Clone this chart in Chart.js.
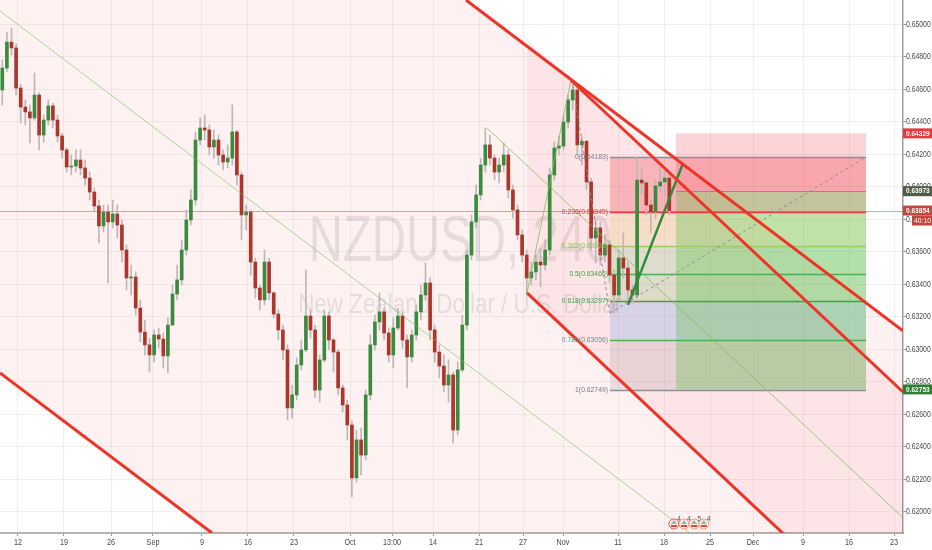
<!DOCTYPE html>
<html>
<head>
<meta charset="utf-8">
<script src="https://cdn.jsdelivr.net/npm/chart.js@4.4.1/dist/chart.umd.min.js"></script>
<style>
  html, body { margin: 0; padding: 0; background: #fff; }
  #wrap { width: 932px; height: 550px; }
</style>
</head>
<body>
<div id="wrap"><canvas id="chart" width="932" height="550"></canvas></div>
<script>
// NZDUSD 240 - each candle here covers roughly three 4h bars
const firstOpen = 0.64596;
const closes = [
  0.64731, 0.64891, 0.64855, 0.64608, 0.64491, 0.64461, 0.64424, 0.64565, 0.64319, 0.64411,
  0.64498, 0.64411, 0.64313, 0.64227, 0.64122, 0.64128, 0.64165, 0.64116, 0.64054, 0.63968,
  0.63882, 0.63759, 0.63845, 0.63784, 0.63833, 0.63765, 0.63611, 0.63439, 0.63445, 0.63254,
  0.63106, 0.63027, 0.62965, 0.63088, 0.63063, 0.62959, 0.63149, 0.63340, 0.63427, 0.63611,
  0.63796, 0.63919, 0.64288, 0.64362, 0.64350, 0.64245, 0.64288, 0.64196, 0.64153, 0.64177,
  0.64338, 0.64073, 0.63827, 0.63845, 0.63537, 0.63377, 0.63304, 0.63537, 0.63347, 0.63217,
  0.63119, 0.62996, 0.62639, 0.62719, 0.62903, 0.62996, 0.63205, 0.63119, 0.62749, 0.62934,
  0.63205, 0.63057, 0.62983, 0.62762, 0.62657, 0.62534, 0.62208, 0.62442, 0.62349, 0.62719,
  0.63027, 0.63168, 0.63230, 0.63100, 0.62965, 0.63131, 0.63205, 0.63057, 0.62953, 0.63088,
  0.63230, 0.63334, 0.63408, 0.63119, 0.62983, 0.62897, 0.62780, 0.62842, 0.62503, 0.62873,
  0.63149, 0.63580, 0.63784, 0.63950, 0.64134, 0.64258, 0.64177, 0.64091, 0.64134, 0.64196,
  0.63981, 0.63858, 0.63704, 0.63580, 0.63439, 0.63476, 0.63537, 0.63519, 0.63611, 0.64073,
  0.64239, 0.64251, 0.64399, 0.64535, 0.64596, 0.64258, 0.64280, 0.64030, 0.63685, 0.63747,
  0.63580, 0.63642, 0.63457, 0.63334, 0.63562, 0.63500, 0.63365, 0.63334, 0.64042, 0.64024,
  0.63888, 0.63845, 0.64005, 0.64030, 0.64054, 0.63854
];
const highs = [
  0.64781, 0.64953, 0.64978, 0.64880, 0.64630, 0.64535, 0.64504, 0.64701, 0.64578, 0.64442,
  0.64535, 0.64516, 0.64442, 0.64331, 0.64239, 0.64196, 0.64227, 0.64227, 0.64165, 0.64091,
  0.63993, 0.63919, 0.63888, 0.63888, 0.63919, 0.63888, 0.63796, 0.63642, 0.63519, 0.63476,
  0.63304, 0.63180, 0.63069, 0.63119, 0.63131, 0.63100, 0.63193, 0.63396, 0.63519, 0.63673,
  0.63858, 0.63981, 0.64338, 0.64424, 0.64442, 0.64381, 0.64350, 0.64319, 0.64227, 0.64258,
  0.64504, 0.64350, 0.64091, 0.63888, 0.63858, 0.63562, 0.63396, 0.63611, 0.63562, 0.63353,
  0.63242, 0.63149, 0.63027, 0.62780, 0.62946, 0.63057, 0.63488, 0.63242, 0.63149, 0.62965,
  0.63242, 0.63230, 0.63069, 0.62996, 0.62780, 0.62688, 0.62560, 0.62503, 0.62516, 0.62749,
  0.63088, 0.63211, 0.63347, 0.63254, 0.63131, 0.63193, 0.63254, 0.63230, 0.63088, 0.63119,
  0.63273, 0.63396, 0.63531, 0.63439, 0.63149, 0.63027, 0.62965, 0.62934, 0.62860, 0.62922,
  0.63211, 0.63611, 0.63827, 0.64011, 0.64177, 0.64362, 0.64319, 0.64196, 0.64177, 0.64270,
  0.64227, 0.64011, 0.63888, 0.63734, 0.63611, 0.63537, 0.63580, 0.63624, 0.63673, 0.64116,
  0.64276, 0.64313, 0.64442, 0.64565, 0.64658, 0.64608, 0.64307, 0.64288, 0.64054, 0.63796,
  0.63784, 0.63704, 0.63673, 0.63488, 0.63611, 0.63716, 0.63537, 0.63396, 0.64183, 0.64116,
  0.64042, 0.63919, 0.64042, 0.64122, 0.64122, 0.64073
];
const lows = [
  0.64504, 0.64707, 0.64811, 0.64565, 0.64393, 0.64381, 0.64270, 0.64411, 0.64227, 0.64276,
  0.64381, 0.64362, 0.64276, 0.64177, 0.64091, 0.64073, 0.64091, 0.64073, 0.64011, 0.63919,
  0.63845, 0.63654, 0.63722, 0.63408, 0.63747, 0.63685, 0.63537, 0.63365, 0.63334, 0.63211,
  0.63045, 0.62965, 0.62860, 0.62922, 0.63008, 0.62885, 0.62854, 0.63149, 0.63304, 0.63396,
  0.63580, 0.63765, 0.63888, 0.64258, 0.64288, 0.64196, 0.64177, 0.64134, 0.64104, 0.64116,
  0.64134, 0.64011, 0.63673, 0.63734, 0.63457, 0.63316, 0.63242, 0.63273, 0.63304, 0.63193,
  0.63057, 0.62934, 0.62565, 0.62577, 0.62688, 0.62873, 0.62983, 0.63069, 0.62700, 0.62676,
  0.62922, 0.62996, 0.62860, 0.62719, 0.62614, 0.62442, 0.62091, 0.62183, 0.62226, 0.62319,
  0.62688, 0.62996, 0.63119, 0.63057, 0.62922, 0.62885, 0.63119, 0.63008, 0.62762, 0.62922,
  0.63057, 0.63180, 0.63304, 0.63057, 0.62922, 0.62823, 0.62737, 0.62676, 0.62423, 0.62473,
  0.62860, 0.63119, 0.63550, 0.63747, 0.63919, 0.64091, 0.64134, 0.64042, 0.64024, 0.64091,
  0.63931, 0.63808, 0.63673, 0.63537, 0.63347, 0.63396, 0.63427, 0.63384, 0.63488, 0.63580,
  0.64042, 0.64196, 0.64227, 0.64362, 0.64473, 0.64196, 0.64134, 0.63981, 0.63611, 0.63531,
  0.63519, 0.63537, 0.63414, 0.63223, 0.63304, 0.63439, 0.63304, 0.63285, 0.63316, 0.63950,
  0.63827, 0.63716, 0.63808, 0.63968, 0.63950, 0.63827
];

// axis
const xMin = -0.5, xMax = 195.8;
const yMin = 0.61869, yMax = 0.65150;
const xTickPos = [3.41, 13.41, 23.63, 32.76, 43.41, 53.41, 63.41, 75.59, 84.72, 93.63,
  103.63, 113.20, 121.89, 133.85, 143.85, 153.85, 163.20, 174.07, 184.07, 193.85];
const xTickLabels = ['12', '19', '26', 'Sep', '9', '16', '23', 'Oct', '13:00', '14',
  '21', '27', 'Nov', '11', '18', '25', 'Dec', '9', '16', '23'];
const yTickValues = [0.620, 0.622, 0.624, 0.626, 0.628, 0.630, 0.632, 0.634, 0.636,
  0.638, 0.640, 0.642, 0.644, 0.646, 0.648, 0.650];

// drawings [x, price]
const channelUpper = [[100.80, 0.65150], [195.80, 0.63113]];
const channelMid = [[-0.50, 0.65082], [149.50, 0.61869]];
const channelLower = [[-0.50, 0.62854], [45.59, 0.61869]];
const channel2Upper = [[114.07, 0.64910], [195.80, 0.62737]];
const channel2Lower = [[114.07, 0.63347], [171.24, 0.61826]];
const channel2LineStart = 123.63;
const highLine = [[105.37, 0.64362], [202.10, 0.61796]];
const swingUp = [[114.07, 0.63347], [123.63, 0.64658]];
const swingDown = [[123.85, 0.64658], [132.10, 0.63223]];
const fibDiag = [[132.10, 0.63223], [187.76, 0.64183]];
const greenTrend = [[136.02, 0.63273], [148.00, 0.64147]];

const fibStartX = 132.10, fibEndX = 187.76;
const fibHigh = 0.64183, fibLow = 0.62749;
const fibLevels = [0, 0.236, 0.382, 0.5, 0.618, 0.786, 1];
const fibLineColors = ['#8a8d96', '#f23645', '#9ccc65', '#4caf50', '#43a047', '#4caf50', '#8a8d96'];
const fibTextColors = ['#787b86', '#e53935', '#8bc34a', '#43a047', '#43a047', '#4f9a8a', '#787b86'];
const fibBandColors = ['rgba(242,54,69,0.28)', 'rgba(214,196,90,0.22)', 'rgba(129,199,132,0.25)',
  'rgba(76,175,80,0.18)', 'rgba(70,140,230,0.2)', 'rgba(110,100,120,0.14)'];

const rrStartX = 146.46, rrEndX = 187.76;
const rrStop = 0.64329, rrEntry = 0.63973, rrTarget = 0.62753;

const markerPrices = [0.64329, 0.63973, 0.63854, 0.62753];
const markerColors = ['#e8383d', '#525b49', '#c4463c', '#2e7d32'];

const eventX = [146.0, 148.2, 150.4, 152.5];
const eventLabels = ['4', '4', '5', '4'];

const upColor = '#3a8a3f', downColor = '#ad3529', wickColor = '#bfb6b6';
const red = '#ef3326';

const opens = closes.map((c, i) => i === 0 ? firstOpen : closes[i - 1]);
const bodies = closes.map((c, i) => ({ x: i, y: [opens[i], c] }));
const wicks = closes.map((c, i) => ({ x: i, y: [lows[i], highs[i]] }));
const bodyColors = closes.map((c, i) => c >= opens[i] ? upColor : downColor);

function lineAt(s, xv) {
  return s[0][1] + (s[1][1] - s[0][1]) * (xv - s[0][0]) / (s[1][0] - s[0][0]);
}

function seg(points, color, width, dash) {
  return {
    type: 'line',
    data: points.map(p => ({ x: p[0], y: p[1] })),
    borderColor: color,
    borderWidth: width,
    borderDash: dash || [],
    pointRadius: 0,
    fill: false,
    tension: 0,
    order: 0
  };
}

function squeezeText(ctx, text, x, y, align, font, color, sx) {
  ctx.save();
  ctx.font = font;
  ctx.fillStyle = color;
  ctx.textAlign = align;
  ctx.textBaseline = 'middle';
  ctx.translate(x, y);
  ctx.scale(sx, 1);
  ctx.fillText(text, 0, 0);
  ctx.restore();
}

const drawings = {
  id: 'drawings',
  beforeDatasetsDraw(chart) {
    const { ctx, chartArea: a, scales: { x, y } } = chart;
    const px = v => x.getPixelForValue(v);
    const py = v => y.getPixelForValue(v);
    ctx.save();
    ctx.beginPath();
    ctx.rect(a.left, a.top, a.width, a.height);
    ctx.clip();

    // watermark
    ctx.save();
    ctx.translate(460, 0);
    ctx.scale(0.74, 1);
    ctx.fillStyle = 'rgba(110,110,120,0.17)';
    ctx.textAlign = 'center';
    ctx.textBaseline = 'alphabetic';
    ctx.font = '64px "Liberation Sans"';
    ctx.fillText('NZDUSD, 240', 0, 261);
    ctx.restore();
    ctx.save();
    ctx.translate(460, 0);
    ctx.scale(0.8, 1);
    ctx.fillStyle = 'rgba(110,110,120,0.17)';
    ctx.textAlign = 'center';
    ctx.font = '28px "Liberation Sans"';
    ctx.fillText('New Zealand Dollar / U.S. Dollar', 0, 313);
    ctx.restore();

    // channels
    const band = (top, bottom, x0, x1, color) => {
      ctx.beginPath();
      ctx.moveTo(px(x0), py(lineAt(top, x0)));
      ctx.lineTo(px(x1), py(lineAt(top, x1)));
      ctx.lineTo(px(x1), py(lineAt(bottom, x1)));
      ctx.lineTo(px(x0), py(lineAt(bottom, x0)));
      ctx.closePath();
      ctx.fillStyle = color;
      ctx.fill();
    };
    band(channelUpper, channelLower, xMin, xMax + 5, 'rgba(242,54,69,0.07)');
    band(channel2Upper, channel2Lower, channel2Upper[0][0], xMax + 5, 'rgba(242,54,69,0.07)');

    // fib bands
    const fibPrice = l => fibHigh - l * (fibHigh - fibLow);
    for (let i = 0; i < fibLevels.length - 1; i++) {
      const t = py(fibPrice(fibLevels[i])), b = py(fibPrice(fibLevels[i + 1]));
      ctx.fillStyle = fibBandColors[i];
      ctx.fillRect(px(fibStartX), t, px(fibEndX) - px(fibStartX), b - t);
    }
    // risk / reward
    ctx.fillStyle = 'rgba(242,54,69,0.22)';
    ctx.fillRect(px(rrStartX), py(rrStop), px(rrEndX) - px(rrStartX), py(rrEntry) - py(rrStop));
    ctx.fillStyle = 'rgba(80,190,60,0.32)';
    ctx.fillRect(px(rrStartX), py(rrEntry), px(rrEndX) - px(rrStartX), py(rrTarget) - py(rrEntry));

    // fib level lines
    fibLevels.forEach((l, i) => {
      const yy = Math.round(py(fibPrice(l))) + 0.5;
      ctx.strokeStyle = fibLineColors[i];
      ctx.lineWidth = 1.3;
      ctx.beginPath();
      ctx.moveTo(px(fibStartX), yy);
      ctx.lineTo(px(fibEndX), yy);
      ctx.stroke();
    });
    ctx.strokeStyle = '#8a8d96';
    ctx.lineWidth = 1;
    ctx.beginPath();
    ctx.moveTo(px(rrStartX), Math.round(py(rrEntry)) + 0.5);
    ctx.lineTo(px(rrEndX), Math.round(py(rrEntry)) + 0.5);
    ctx.stroke();

    // last price line
    const last = closes[closes.length - 1];
    ctx.strokeStyle = 'rgba(242,54,69,0.5)';
    ctx.beginPath();
    ctx.moveTo(a.left, Math.round(py(last)) + 0.5);
    ctx.lineTo(a.right, Math.round(py(last)) + 0.5);
    ctx.stroke();
    ctx.restore();
  },
  afterDraw(chart) {
    const { ctx, chartArea: a, scales: { x, y } } = chart;
    const px = v => x.getPixelForValue(v);
    const py = v => y.getPixelForValue(v);
    const fibPrice = l => fibHigh - l * (fibHigh - fibLow);

    // fib labels
    fibLevels.forEach((l, i) => {
      squeezeText(ctx, l + '(' + fibPrice(l).toFixed(5) + ')', px(fibStartX) - 2, py(fibPrice(l)),
        'right', '8px "Liberation Sans"', fibTextColors[i], 0.85);
    });

    // event markers
    eventX.forEach((ev, i) => {
      const cx = px(ev), cy = 524;
      ctx.beginPath();
      ctx.arc(cx, cy, 5, 0, Math.PI * 2);
      ctx.fillStyle = '#fbeeee';
      ctx.fill();
      ctx.lineWidth = 1;
      ctx.strokeStyle = i === 0 ? '#f0504a' : '#f59a6a';
      ctx.stroke();
      ctx.beginPath();
      ctx.moveTo(cx - 3, cy);
      ctx.lineTo(cx, cy - 4);
      ctx.lineTo(cx + 3, cy);
      ctx.closePath();
      ctx.fillStyle = '#8fb9b0';
      ctx.fill();
      ctx.fillStyle = '#e0453a';
      ctx.fillRect(cx - 3, cy + 1, 6, 2);
      squeezeText(ctx, eventLabels[i], cx + 5, cy - 5, 'center', '8px "Liberation Sans"', '#555', 0.9);
    });

    // y labels
    y.ticks.forEach(t => {
      squeezeText(ctx, t.value.toFixed(5), a.right + 3, py(t.value), 'left',
        '9px "Liberation Sans"', '#4a4a4a', 0.76);
    });
    // x labels
    x.ticks.forEach((t, i) => {
      squeezeText(ctx, xTickLabels[i], px(t.value), a.bottom + 10, 'center',
        '9px "Liberation Sans"', '#4a4a4a', 0.8);
    });

    // price markers on the axis
    markerPrices.forEach((p, i) => {
      const yy = py(p);
      ctx.fillStyle = markerColors[i];
      ctx.fillRect(a.right, yy - 5, 932 - a.right, 10);
      squeezeText(ctx, p.toFixed(5), a.right + 3, yy, 'left', 'bold 8px "Liberation Sans"', '#fff', 0.82);
    });
    const cd = py(closes[closes.length - 1]) + 10;
    ctx.fillStyle = '#c4463c';
    ctx.fillRect(a.right + 9, cd - 5, 932 - a.right - 9, 10);
    squeezeText(ctx, '40:10', a.right + 11, cd, 'left', '8px "Liberation Sans"', '#fff', 0.85);
  }
};

new Chart(document.getElementById('chart').getContext('2d'), {
  type: 'bar',
  data: {
    datasets: [
      seg(channelUpper, red, 3),
      seg(channelLower, red, 3),
      seg([[channel2LineStart, lineAt(channel2Upper, channel2LineStart)], channel2Upper[1]], red, 3),
      seg(channel2Lower, red, 3),
      seg(channelMid, 'rgba(120,190,90,0.6)', 1),
      seg(highLine, 'rgba(120,190,90,0.75)', 1),
      seg(swingUp, 'rgba(120,190,90,0.75)', 1),
      seg(swingDown, '#8a8d96', 1, [3, 3]),
      seg(fibDiag, '#8a8d96', 1, [3, 3]),
      seg(greenTrend, '#2e8b3e', 2.5),
      {
        type: 'bar', data: bodies, backgroundColor: bodyColors, borderColor: bodyColors,
        borderWidth: 0, barThickness: 3, minBarLength: 1, grouped: false, order: 2
      },
      {
        type: 'bar', data: wicks, backgroundColor: wickColor,
        borderWidth: 0, barThickness: 1, grouped: false, order: 3
      }
    ]
  },
  options: {
    responsive: false,
    animation: false,
    devicePixelRatio: 1,
    layout: { padding: 0, autoPadding: false },
    plugins: { legend: { display: false }, tooltip: { enabled: false } },
    scales: {
      x: {
        type: 'linear', min: xMin, max: xMax, offset: false,
        grid: { color: 'rgba(0,0,0,0.06)', offset: false, drawTicks: true, tickLength: 3, tickColor: '#9a9a9a' },
        border: { color: '#b4b4b4', width: 2 },
        ticks: { display: false },
        afterBuildTicks: s => { s.ticks = xTickPos.map(v => ({ value: v })); },
        afterFit: s => { s.height = 17; }
      },
      y: {
        position: 'right', min: yMin, max: yMax,
        grid: { color: 'rgba(0,0,0,0.06)', drawTicks: true, tickLength: 3, tickColor: '#9a9a9a' },
        border: { color: '#9e9e9e', width: 1.5 },
        ticks: { display: false },
        afterBuildTicks: s => { s.ticks = yTickValues.map(v => ({ value: v })); },
        afterFit: s => { s.width = 29; }
      }
    }
  },
  plugins: [drawings]
});
</script>
</body>
</html>
